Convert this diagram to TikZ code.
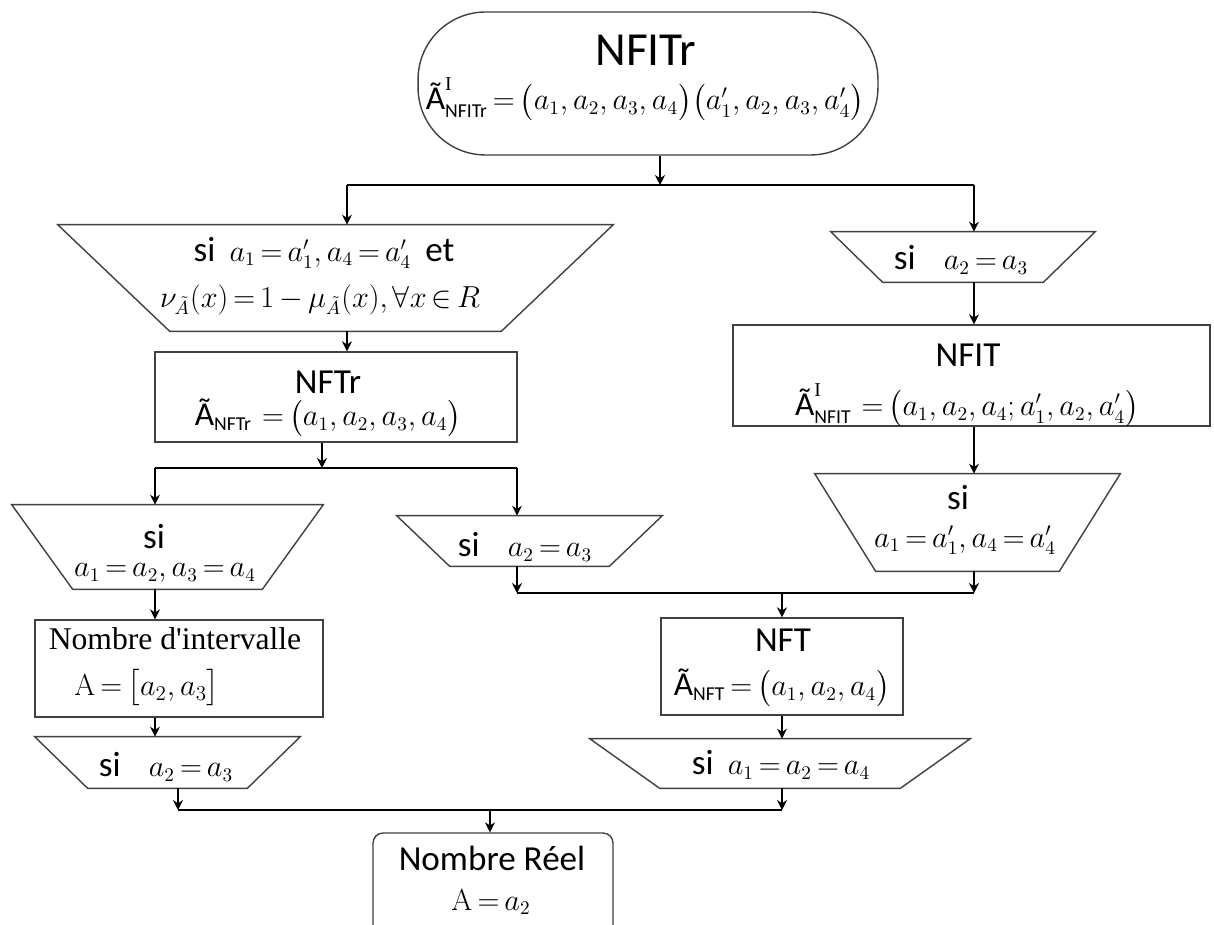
\documentclass[tikz,border=0pt]{standalone}
\usepackage{amsmath}
\usepackage[no-math]{fontspec}
\setmainfont{Carlito}
\newfontfamily\tnr{Liberation Serif}
\usetikzlibrary{arrows.meta,calc,positioning}
\thickmuskip=3mu plus 3mu
\medmuskip=3mu plus 2mu minus 3mu

\tikzset{
  frame/.style={draw=black!75, line width=0.8pt, inner sep=0pt},
  sibox/.style={inner sep=0pt},
  outline/.style={draw=black!75, line width=0.8pt},
  ttl/.style={inner sep=0pt, font=\fontsize{20}{24}\selectfont},
  eq/.style={inner sep=0pt, font=\fontsize{16}{20}\selectfont},
  link/.style={line width=0.8pt, -{Stealth[length=0.2cm,width=0.2cm]}},
  wire/.style={line width=0.8pt}
}
\newcommand{\ttlsi}{{\fontsize{20}{24}\selectfont si}}
\newcommand{\tA}{\text{\fontsize{19}{20}\selectfont Ã}}

\begin{document}
\begin{tikzpicture}[x=0.02cm, y=-0.02cm]
\path[use as bounding box, clip] (0,0) rectangle (1214,925);

% shapes
\node[frame, rounded corners=1.35cm, minimum width=9.2cm, minimum height=2.86cm] (nfitr) at (648,83.5) {};
\node[sibox, minimum width=11.1cm, minimum height=2.12cm] (si1) at (335.5,278) {};
\node[frame, minimum width=7.24cm, minimum height=1.8cm] (nftr) at (336,397) {};
\node[sibox, minimum width=6.22cm, minimum height=1.68cm] (si2) at (167.5,547) {};
\node[sibox, minimum width=5.3cm, minimum height=1cm] (si3) at (529.5,541) {};
\node[frame, minimum width=5.76cm, minimum height=1.94cm] (inter) at (179,668.5) {};
\node[sibox, minimum width=5.3cm, minimum height=1.02cm] (si4) at (167.5,762.5) {};
\node[sibox, minimum width=5.28cm, minimum height=1cm] (siR1) at (963,257) {};
\node[frame, minimum width=9.54cm, minimum height=2.02cm] (nfit) at (971.5,375.5) {};
\node[sibox, minimum width=6.1cm, minimum height=1.94cm] (siR2) at (967.5,522.5) {};
\node[frame, minimum width=4.84cm, minimum height=1.94cm] (nft) at (782,666.5) {};
\node[sibox, minimum width=7.6cm, minimum height=0.98cm] (si5) at (780,763.5) {};
\node[frame, rounded corners=0.2cm, minimum width=4.8cm, minimum height=2.24cm] (reel) at (493,889) {};

% trapezoid outlines
\foreach \n/\d in {si1/112, si2/61, si3/53, si4/53, siR1/52, siR2/61, si5/70}
  \draw[outline] (\n.north west) -- (\n.north east) -- ($(\n.south east)+(-\d,0)$)
    -- ($(\n.south west)+(\d,0)$) -- cycle;

% texts
\node[ttl, font=\fontsize{27}{30}\selectfont] (nfitr-t) at (646,50) {NFITr};
\node[eq] (nfitr-e) at (645,99)
  {$\tA^{\text{\tnr I}}_{\text{NFITr}}=\bigl(a_1,a_2,a_3,a_4\bigr)\bigl(a'_1,a_2,a_3,a'_4\bigr)$};
\node[eq] (si1-t) at (324,253) {\ttlsi\enspace $a_1=a'_1,a_4=a'_4$\enspace {\fontsize{20}{24}\selectfont et}};
\node[eq] (si1-e) at (320,300)
  {$\nu_{\tilde{A}}(x)=1-\mu_{\tilde{A}}(x),\forall x\in R$};
\node[ttl] (nftr-t) at (328,382) {NFTr};
\node[eq] (nftr-e) at (328,418) {$\tA_{\text{NFTr}}\;=\bigl(a_1,a_2,a_3,a_4\bigr)$};
\node[ttl] (si2-t) at (154,537) {si};
\node[eq] (si2-e) at (165,573) {$a_1=a_2,a_3=a_4$};
\node[eq] (si3-t) at (525,547) {\ttlsi\quad $a_2=a_3$};
\node[eq, font=\tnr\fontsize{18}{22}\selectfont] (inter-t) at (175,639) {Nombre d'intervalle};
\node[eq, font=\fontsize{17}{20}\selectfont] (inter-e) at (147,688) {$\mathrm{A}=\bigl[a_2,a_3\bigr]$};
\node[eq] (si4-t) at (166,767) {\ttlsi\quad $a_2=a_3$};
\node[eq] (siR1-t) at (961,260) {\ttlsi\quad $a_2=a_3$};
\node[ttl] (nfit-t) at (968,355) {NFIT};
\node[eq] (nfit-e) at (967,405)
  {$\tA^{\text{\tnr I}}_{\text{NFIT}}\;=\bigl(a_1,a_2,a_4;a'_1,a_2,a'_4\bigr)$};
\node[ttl] (siR2-t) at (958,498) {si};
\node[eq] (siR2-e) at (965,540) {$a_1=a'_1,a_4=a'_4$};
\node[ttl] (nft-t) at (783,640) {NFT};
\node[eq] (nft-e) at (782,688) {$\tA_{\text{NFT}}=\bigl(a_1,a_2,a_4\bigr)$};
\node[eq] (si5-t) at (781,765) {\ttlsi\enspace $a_1=a_2=a_4$};
\node[ttl] (reel-t) at (492,858) {Nombre Réel};
\node[eq] (reel-e) at (491,902) {$\mathrm{A}=a_2$};

% junctions
\coordinate (j1) at (660,185);
\coordinate (j1l) at (347,185);
\coordinate (j1r) at (974,185);
\coordinate (j2) at (322,468);
\coordinate (j2l) at (155,468);
\coordinate (j2r) at (517,468);
\coordinate (j3l) at (517,593);
\coordinate (j3) at (782,593);
\coordinate (j3r) at (974,593);
\coordinate (j4l) at (178,810);
\coordinate (j4) at (490,810);
\coordinate (j4r) at (782,810);

% connectors
\draw[link] (nfitr.south -| j1) -- (j1);
\draw[wire] (j1l) -- (j1r);
\draw[link] (j1l) -- (j1l |- si1.north);
\draw[link] (j1r) -- (j1r |- siR1.north);
\draw[link] (si1.south -| j1l) -- (nftr.north -| j1l);
\draw[link] (nftr.south -| j2) -- (j2);
\draw[wire] (j2l) -- (j2r);
\draw[link] (j2l) -- (j2l |- si2.north);
\draw[link] (j2r) -- (j2r |- si3.north);
\draw[link] (si2.south -| j2l) -- (inter.north -| j2l);
\draw[link] (inter.south -| j2l) -- (si4.north -| j2l);
\draw[link] (si4.south -| j4l) -- (j4l);
\draw[link] (si3.south -| j3l) -- (j3l);
\draw[link] (siR1.south -| j1r) -- (nfit.north -| j1r);
\draw[link] (nfit.south -| j1r) -- (siR2.north -| j1r);
\draw[link] (siR2.south -| j3r) -- (j3r);
\draw[wire] (j3l) -- (j3r);
\draw[link] (j3) -- (j3 |- nft.north);
\draw[link] (nft.south -| j3) -- (si5.north -| j3);
\draw[link] (si5.south -| j4r) -- (j4r);
\draw[wire] (j4l) -- (j4r);
\draw[link] (j4) -- (j4 |- reel.north);
\end{tikzpicture}
\end{document}
